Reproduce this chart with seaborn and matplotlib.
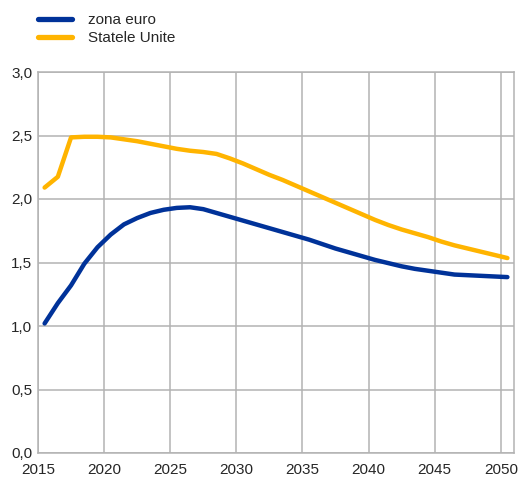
import numpy as np
import pandas as pd
import matplotlib
matplotlib.use("Agg")
import matplotlib.pyplot as plt
import seaborn as sns

years = [2015.5 + i for i in range(36)]
zona_euro = [1.02, 1.18, 1.32, 1.49, 1.62, 1.72, 1.80, 1.85, 1.89, 1.915,
             1.93, 1.935, 1.92, 1.89, 1.86, 1.83, 1.80, 1.77, 1.74, 1.71,
             1.68, 1.645, 1.61, 1.58, 1.55, 1.52, 1.495, 1.47, 1.45, 1.435,
             1.42, 1.405, 1.40, 1.395, 1.39, 1.385]
statele_unite = [2.09, 2.175, 2.485, 2.49, 2.49, 2.485, 2.47, 2.455, 2.435, 2.415,
                 2.395, 2.38, 2.37, 2.355, 2.32, 2.28, 2.235, 2.19, 2.15, 2.105,
                 2.06, 2.015, 1.97, 1.925, 1.88, 1.835, 1.795, 1.76, 1.73, 1.70,
                 1.665, 1.635, 1.61, 1.585, 1.56, 1.535]
series_names = ["zona euro", "Statele Unite"]
colors = ["#003299", "#ffb400"]
x_ticks = [2015, 2020, 2025, 2030, 2035, 2040, 2045, 2050]
y_ticks = [0.0, 0.5, 1.0, 1.5, 2.0, 2.5, 3.0]

df = pd.DataFrame({
    "an": years * 2,
    "valoare": zona_euro + statele_unite,
    "serie": [series_names[0]] * len(years) + [series_names[1]] * len(years),
})

sns.set_style("white")
plt.rcParams["font.family"] = ["Liberation Sans", "DejaVu Sans"]

fig = plt.figure(figsize=(5.22, 4.82), dpi=100)
ax = fig.add_axes([38/522, 1 - 453/482, (514 - 38)/522, (453 - 72)/482])
sns.lineplot(data=df, x="an", y="valoare", hue="serie", hue_order=series_names,
             palette=colors, linewidth=3.2, ax=ax, legend=False)

ax.set_xlim(2015, 2051)
ax.set_ylim(0, 3.0)
ax.set_xticks(x_ticks)
ax.set_yticks(y_ticks)
ax.set_yticklabels([f"{v:.1f}".replace(".", ",") for v in y_ticks])
ax.set_xticklabels([str(t) for t in x_ticks])
ax.grid(True, color="#b3b3b3", linewidth=1.1)
ax.set_axisbelow(True)
for s in ax.spines.values():
    s.set_color("#b3b3b3")
    s.set_linewidth(1.1)
ax.tick_params(axis="x", length=5, color="#b3b3b3", labelsize=11, pad=2)
ax.tick_params(axis="y", length=0, labelsize=11, pad=4)
ax.set_xlabel("")
ax.set_ylabel("")

from matplotlib.lines import Line2D
handles = [Line2D([], [], color=c, linewidth=3.8) for c in colors]
fig.legend(handles, series_names, loc="upper left", bbox_to_anchor=(32/522, 1 - 7/482),
           frameon=False, fontsize=11, handlelength=2.25, handletextpad=1.0,
           labelspacing=0.25, borderaxespad=0)

fig.savefig("out.png", dpi=100)
